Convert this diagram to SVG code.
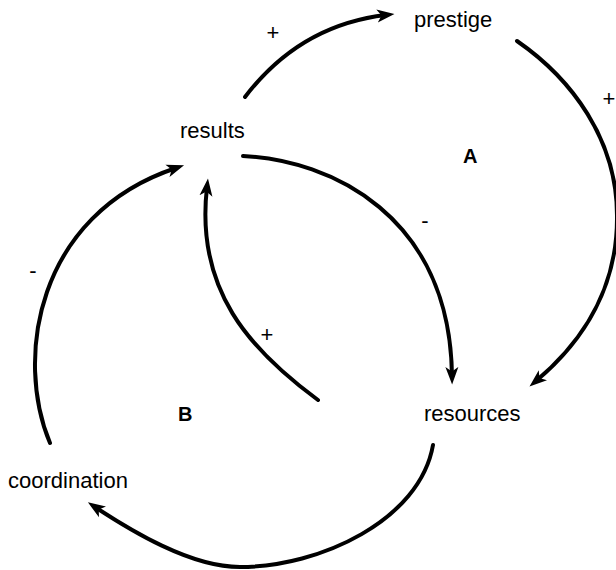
<svg xmlns="http://www.w3.org/2000/svg" width="616" height="570" viewBox="0 0 616 570">
  <style>
    .node { font-family: "Liberation Sans", Arial, sans-serif; font-size: 22px; fill: #000; }
    .loop { font-family: "Liberation Sans", Arial, sans-serif; font-size: 20px; font-weight: bold; fill: #000; }
    .sign { font-family: "Liberation Sans", Arial, sans-serif; font-size: 22px; fill: #000; text-anchor: middle; }
    .link { fill: none; stroke: #000; stroke-width: 4; stroke-linecap: round; }
  </style>
  <defs>
    <marker id="arrow" markerUnits="userSpaceOnUse" markerWidth="18" markerHeight="14" viewBox="0 0 18 14" refX="9" refY="7" orient="auto">
      <path d="M0,0.5 L17.5,7 L0,13.5 L4.5,7 Z" fill="#000"/>
    </marker>
  </defs>

  <rect width="616" height="570" fill="#fff"/>

  <!-- causal links -->
  <g id="connectors">
    <!-- results -> prestige -->
    <path class="link" d="M245,97 Q300,25 386,15" marker-end="url(#arrow)"/>
    <!-- prestige -> resources -->
    <path class="link" d="M517,41 C572,79 617,140 617,215 C618,285 585,340 536,381" marker-end="url(#arrow)"/>
    <!-- results -> resources -->
    <path class="link" d="M243,156 C330,160 450,215 452,376" marker-end="url(#arrow)"/>
    <!-- resources -> results -->
    <path class="link" d="M318,400 C250,350 195,290 207,187" marker-end="url(#arrow)"/>
    <!-- coordination -> results -->
    <path class="link" d="M50,443 C15,360 35,215 176,168" marker-end="url(#arrow)"/>
    <!-- resources -> coordination -->
    <path class="link" d="M433,445 C420,520 320,567 240,567 C190,567 130,530 95,507" marker-end="url(#arrow)"/>
  </g>

  <!-- link polarities -->
  <g id="signs">
    <text class="sign" x="273" y="40">+</text>
    <text class="sign" x="609" y="106">+</text>
    <text class="sign" x="425" y="228">-</text>
    <text class="sign" x="267" y="342">+</text>
    <text class="sign" x="33" y="278">-</text>
  </g>

  <g id="prestige"><text class="node" x="414" y="27">prestige</text></g>
  <g id="results"><text class="node" x="180" y="138">results</text></g>
  <g id="resources"><text class="node" x="424" y="421">resources</text></g>
  <g id="coordination"><text class="node" x="8" y="488">coordination</text></g>

  <!-- loop labels -->
  <g id="loop-A"><text class="loop" x="463" y="163">A</text></g>
  <g id="loop-B"><text class="loop" x="178" y="421">B</text></g>
</svg>
